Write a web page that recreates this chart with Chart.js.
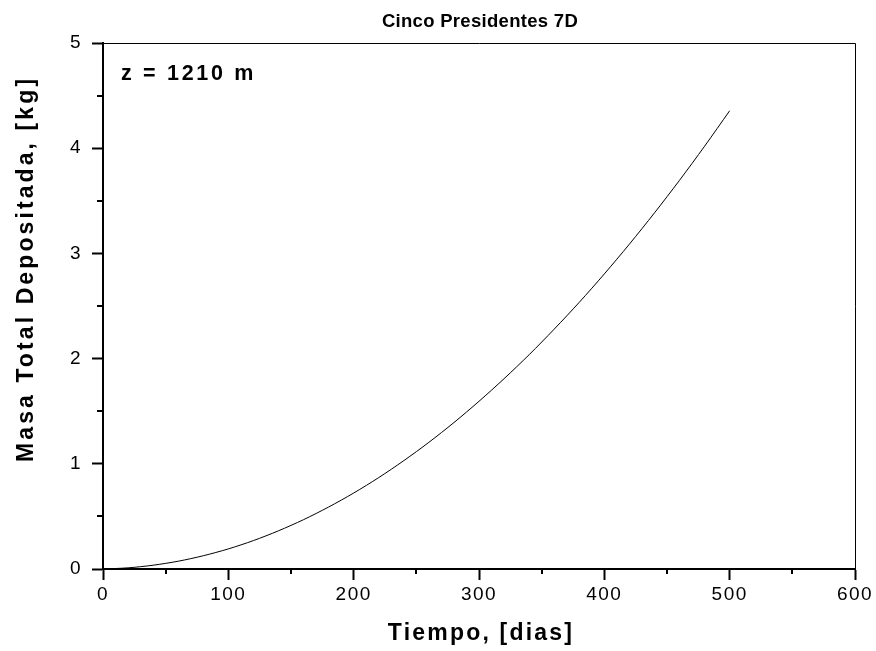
<!DOCTYPE html>
<html>
<head>
<meta charset="utf-8">
<script src="https://cdn.jsdelivr.net/npm/chart.js@4/dist/chart.umd.min.js"></script>
<style>
  html, body { margin: 0; padding: 0; background: #fff; }
  #wrap { width: 876px; height: 651px; position: relative; }
</style>
</head>
<body>
<div id="wrap"><canvas id="c" width="876" height="651"></canvas></div>
<script>
// Tiempo (dias)
const dias = [0, 20, 40, 60, 80, 100, 120, 140, 160, 180, 200, 220, 240,
              260, 280, 300, 320, 340, 360, 380, 400, 420, 440, 460, 480, 500];
// Masa total depositada (kg)
const masa = [0, 0.011, 0.036, 0.074, 0.126, 0.191, 0.270, 0.363, 0.469, 0.589,
              0.722, 0.869, 1.030, 1.204, 1.392, 1.594, 1.809, 2.037, 2.280,
              2.535, 2.805, 3.088, 3.385, 3.695, 4.019, 4.356];
const xMajor = [0, 100, 200, 300, 400, 500, 600];
const yMajor = [0, 1, 2, 3, 4, 5];
const titulo = 'Cinco Presidentes 7D';
const etiquetaZ = 'z = 1210 m';
const tituloX = 'Tiempo, [dias]';
const tituloY = 'Masa Total Depositada, [kg]';

const FONT = '"Liberation Sans", Arial, sans-serif';

function spacedText(ctx, text, x, y, spacing) {
  ctx.letterSpacing = spacing + 'px';
  ctx.fillText(text, x, y);
  ctx.letterSpacing = '0px';
}

// Slightly spaced tick labels
const tickSpacing = {
  id: 'tickSpacing',
  beforeDraw(chart) { chart.ctx.letterSpacing = '1.5px'; },
  afterDatasetsDraw(chart) { chart.ctx.letterSpacing = '0px'; }
};

// Frame, minor ticks and text labels
const decor = {
  id: 'decor',
  afterDraw(chart) {
    const { ctx, chartArea: a, scales } = chart;
    const xs = scales.x, ys = scales.y;
    ctx.save();
    ctx.letterSpacing = '0px';
    // thin top and right borders
    ctx.strokeStyle = '#000';
    ctx.lineWidth = 1;
    ctx.beginPath();
    ctx.moveTo(a.left, a.top + 0.5);
    ctx.lineTo(a.right + 0.5, a.top + 0.5);
    ctx.lineTo(a.right + 0.5, a.bottom);
    ctx.stroke();
    // minor ticks
    ctx.lineWidth = 2;
    ctx.beginPath();
    for (let v = 50; v < 600; v += 100) {
      const px = Math.round(xs.getPixelForValue(v));
      ctx.moveTo(px, a.bottom);
      ctx.lineTo(px, a.bottom + 5);
    }
    for (let v = 0.5; v < 5; v += 1) {
      const py = Math.round(ys.getPixelForValue(v));
      ctx.moveTo(a.left, py);
      ctx.lineTo(a.left - 6, py);
    }
    ctx.stroke();

    ctx.fillStyle = '#000';
    ctx.textBaseline = 'alphabetic';
    // main title
    ctx.textAlign = 'center';
    ctx.font = 'bold 18.5px ' + FONT;
    spacedText(ctx, titulo, (a.left + a.right) / 2 + 1, 27, 0.3);
    // annotation
    ctx.textAlign = 'left';
    ctx.font = 'bold 21.5px ' + FONT;
    spacedText(ctx, etiquetaZ, 121, 80, 2.7);
    // x axis title
    ctx.textAlign = 'center';
    ctx.font = 'bold 23px ' + FONT;
    spacedText(ctx, tituloX, (a.left + a.right) / 2 + 2, 640, 2.2);
    // y axis title, read upward from just above the "1" tick
    ctx.textAlign = 'left';
    ctx.translate(32.5, 462);
    ctx.rotate(-Math.PI / 2);
    spacedText(ctx, tituloY, 0, 0, 3.1);
    ctx.restore();
  }
};

new Chart(document.getElementById('c'), {
  type: 'line',
  data: {
    datasets: [{
      data: dias.map((d, i) => ({ x: d, y: masa[i] })),
      borderColor: '#000',
      borderWidth: 1,
      pointRadius: 0,
      tension: 0.3,
      fill: false
    }]
  },
  options: {
    responsive: false,
    animation: false,
    devicePixelRatio: 1,
    layout: { padding: { top: 43, right: 21, left: 0, bottom: 0 } },
    plugins: { legend: { display: false }, tooltip: { enabled: false }, title: { display: false } },
    scales: {
      x: {
        type: 'linear',
        min: 0, max: 600,
        afterBuildTicks: s => { s.ticks = xMajor.map(v => ({ value: v })); },
        afterFit: s => { s.height = 82; },
        grid: { drawOnChartArea: false, drawTicks: true, tickLength: 11, tickWidth: 2, color: '#000' },
        border: { display: true, color: '#000', width: 2 },
        ticks: { color: '#000', font: { family: FONT, size: 19 }, padding: 3, maxRotation: 0 }
      },
      y: {
        type: 'linear',
        min: 0, max: 5,
        afterBuildTicks: s => { s.ticks = yMajor.map(v => ({ value: v })); },
        afterFit: s => { s.width = 103; },
        grid: { drawOnChartArea: false, drawTicks: true, tickLength: 11, tickWidth: 2, color: '#000' },
        border: { display: true, color: '#000', width: 2 },
        ticks: { color: '#000', font: { family: FONT, size: 19 }, padding: 10 }
      }
    }
  },
  plugins: [tickSpacing, decor]
});
</script>
</body>
</html>
